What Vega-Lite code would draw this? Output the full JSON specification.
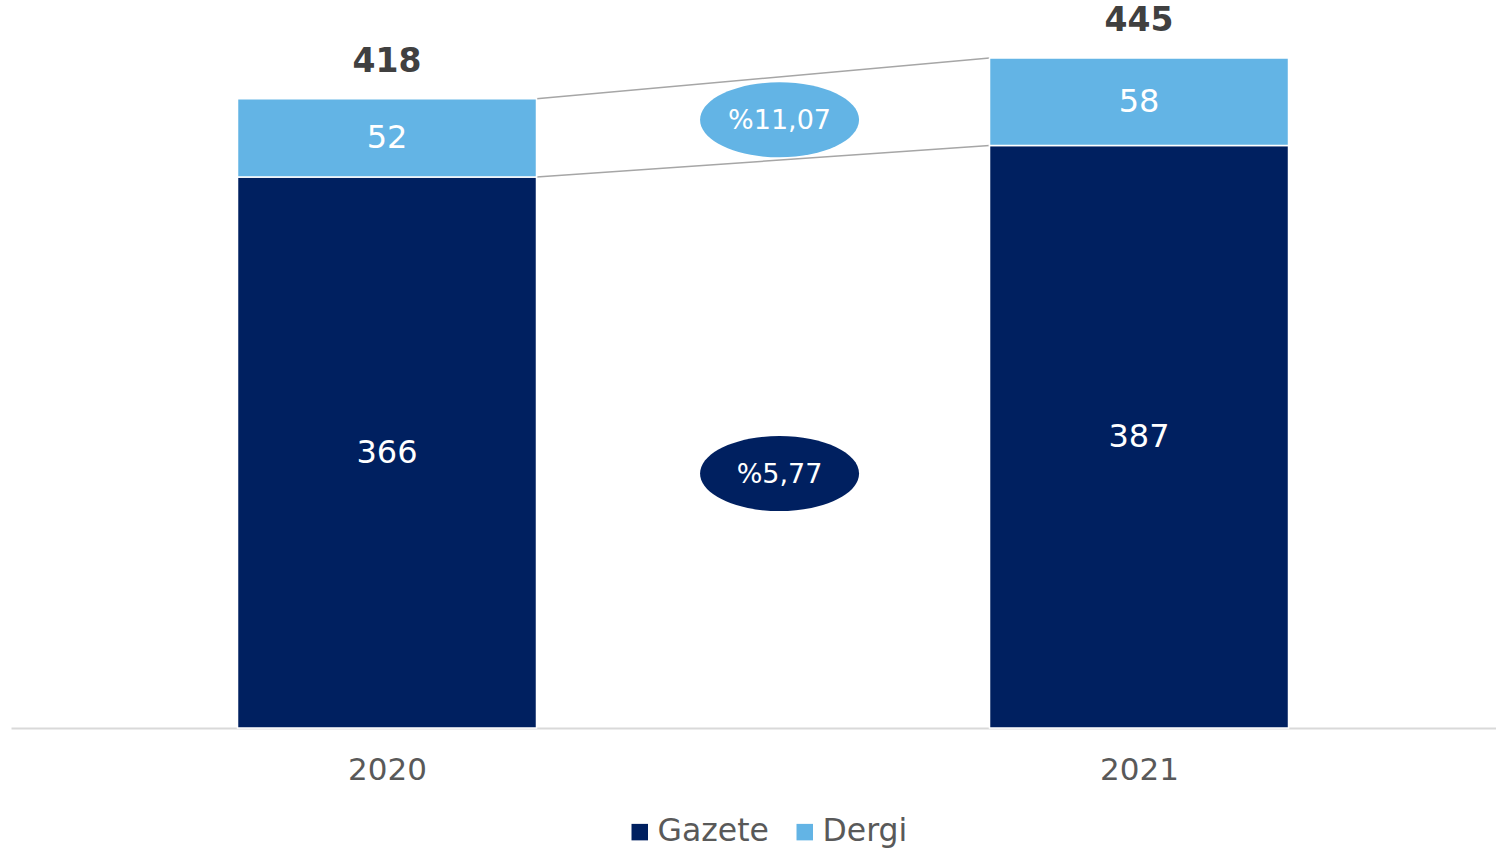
{
  "$schema": "https://vega.github.io/schema/vega-lite/v6.json",
  "width": 1485,
  "height": 728,
  "autosize": {"type": "none"},
  "padding": {"left": 11, "top": 0, "right": 0, "bottom": 124},
  "background": "white",
  "config": {
    "view": {"stroke": null},
    "font": "DejaVu Sans",
    "scale": {"continuousPadding": 0},
    "axisX": {"ticks": false, "grid": false, "domainColor": "#D9D9D9", "domainWidth": 2, "labelFontSize": 31, "labelColor": "#595959", "labelPadding": 27, "labelFont": "DejaVu Sans"}
  },
  "datasets": {
    "bars": [
      {"year": 2020, "series": "Gazete", "value": 366},
      {"year": 2020, "series": "Dergi", "value": 52},
      {"year": 2021, "series": "Gazete", "value": 387},
      {"year": 2021, "series": "Dergi", "value": 58}
    ],
    "links": [
      {"from": 2020, "to": 2021, "start": 418, "end": 445},
      {"from": 2020, "to": 2021, "start": 366, "end": 387}
    ],
    "growth": [
      {"x": 2020.522, "y": 404, "series": "Dergi", "label": "%11,07"},
      {"x": 2020.522, "y": 169, "series": "Gazete", "label": "%5,77"}
    ]
  },
  "layer": [
    {
      "data": {"name": "links"},
      "mark": {"type": "rule", "color": "#A6A6A6", "strokeWidth": 1.5, "xOffset": 149.5, "x2Offset": -149.5},
      "encoding": {
        "x": {"field": "from", "type": "quantitative", "title": null, "scale": {"domain": [2019.5, 2021.4747], "nice": false, "zero": false, "padding": 0}, "axis": {"values": [2020, 2021], "format": "d"}},
        "x2": {"field": "to"},
        "y": {"field": "start", "type": "quantitative", "scale": {"domain": [0, 483.6], "nice": false}, "axis": null},
        "y2": {"field": "end"}
      }
    },
    {
      "data": {"name": "bars"},
      "mark": {"type": "bar", "width": 299, "stroke": "white", "strokeWidth": 1.5},
      "encoding": {
        "x": {"field": "year", "type": "quantitative", "title": null, "scale": {"domain": [2019.5, 2021.4747], "nice": false, "zero": false, "padding": 0}, "axis": {"values": [2020, 2021], "format": "d"}},
        "y": {"field": "value", "type": "quantitative", "stack": "zero", "scale": {"domain": [0, 483.6], "nice": false}, "axis": null},
        "order": {"field": "series", "sort": "descending"},
        "color": {
          "field": "series", "type": "nominal",
          "scale": {"domain": ["Gazete", "Dergi"], "range": ["#002060", "#63B4E5"]},
          "legend": {"orient": "none", "legendX": 613, "legendY": 816, "direction": "horizontal", "title": null, "symbolType": "square", "symbolSize": 272, "symbolStrokeWidth": 0, "labelFontSize": 31.5, "labelColor": "#595959", "labelFont": "DejaVu Sans", "labelOffset": 2, "columnPadding": 20, "padding": 0}
        }
      }
    },
    {
      "data": {"name": "bars"},
      "mark": {"type": "text", "color": "white", "fontSize": 32, "align": "center", "baseline": "middle"},
      "encoding": {
        "x": {"field": "year", "type": "quantitative", "title": null, "scale": {"domain": [2019.5, 2021.4747], "nice": false, "zero": false, "padding": 0}, "axis": {"values": [2020, 2021], "format": "d"}},
        "y": {"field": "value", "type": "quantitative", "stack": "zero", "bandPosition": 0.5, "scale": {"domain": [0, 483.6], "nice": false}, "axis": null},
        "order": {"field": "series", "sort": "descending"},
        "text": {"field": "value", "type": "quantitative"}
      }
    },
    {
      "data": {"name": "bars"},
      "mark": {"type": "text", "color": "#404040", "fontSize": 33, "fontWeight": "bold", "align": "center", "baseline": "middle", "dy": -37},
      "encoding": {
        "x": {"field": "year", "type": "quantitative", "title": null, "scale": {"domain": [2019.5, 2021.4747], "nice": false, "zero": false, "padding": 0}, "axis": {"values": [2020, 2021], "format": "d"}},
        "y": {"aggregate": "sum", "field": "value", "type": "quantitative", "scale": {"domain": [0, 483.6], "nice": false}, "axis": null},
        "text": {"aggregate": "sum", "field": "value", "type": "quantitative"}
      }
    },
    {
      "data": {"name": "growth"},
      "mark": {"type": "point", "shape": "M-1,0A1,0.472,0,1,0,1,0A1,0.472,0,1,0,-1,0Z", "size": 25281, "filled": true, "opacity": 1},
      "encoding": {
        "x": {"field": "x", "type": "quantitative", "title": null, "scale": {"domain": [2019.5, 2021.4747], "nice": false, "zero": false, "padding": 0}, "axis": {"values": [2020, 2021], "format": "d"}},
        "y": {"field": "y", "type": "quantitative", "scale": {"domain": [0, 483.6], "nice": false}, "axis": null},
        "color": {"field": "series", "type": "nominal"}
      }
    },
    {
      "data": {"name": "growth"},
      "mark": {"type": "text", "color": "white", "fontSize": 27, "align": "center", "baseline": "middle", "dy": 1},
      "encoding": {
        "x": {"field": "x", "type": "quantitative", "title": null, "scale": {"domain": [2019.5, 2021.4747], "nice": false, "zero": false, "padding": 0}, "axis": {"values": [2020, 2021], "format": "d"}},
        "y": {"field": "y", "type": "quantitative", "scale": {"domain": [0, 483.6], "nice": false}, "axis": null},
        "text": {"field": "label", "type": "nominal"}
      }
    }
  ]
}
